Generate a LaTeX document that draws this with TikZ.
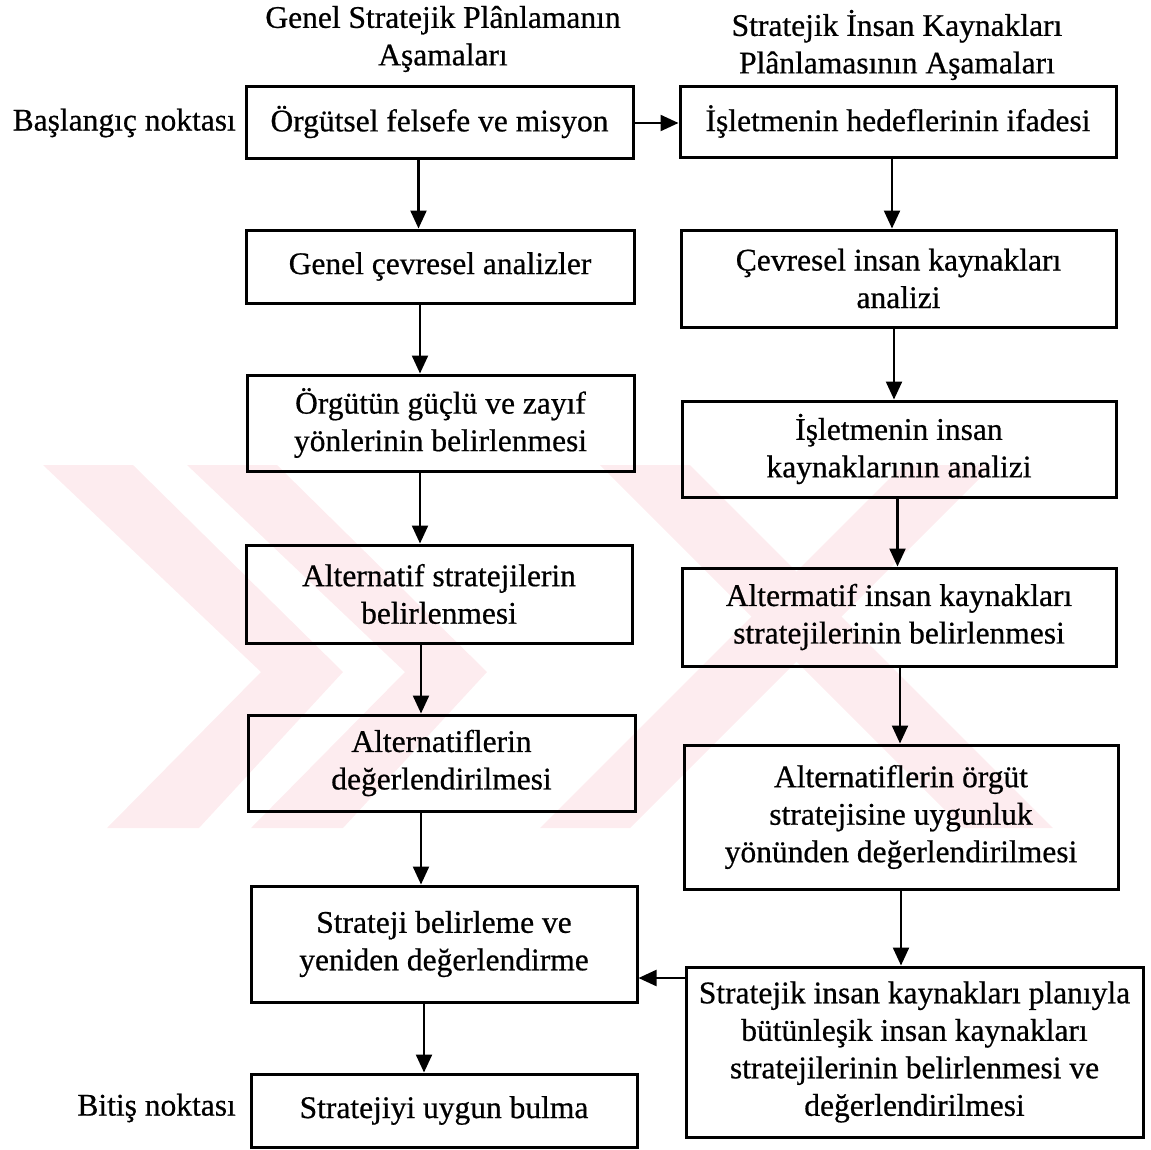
\documentclass[tikz,border=0pt]{standalone}
\usepackage{fontspec}
\setmainfont{Liberation Serif}[FakeBold=0.6]
\usetikzlibrary{arrows.meta}
\definecolor{wm}{RGB}{253,236,239}
\begin{document}
\begin{tikzpicture}[x=1pt,y=-1pt,
  txt/.style={font=\fontsize{31.5}{37.5}\selectfont},
  box/.style={txt, draw, line width=3pt, align=center, inner sep=0pt},
  lbl/.style={txt, align=center, inner sep=0pt},
  arr/.style={line width=2.3pt, -{Triangle[length=18pt,width=16pt]}}]
\useasboundingbox (0,0) rectangle (1151,1149);

% faint background emblem
\begin{scope}
\clip (0,465) rectangle (1151,828);
\fill[wm] (43,465) -- (133,465) -- (343,672) -- (199,828) -- (107,828) -- (261,672) -- cycle;
\fill[wm] (187,465) -- (277,465) -- (487,672) -- (343,828) -- (251,828) -- (405,672) -- cycle;
\fill[wm] (600,465) -- (690,465) -- (1053,828) -- (963,828) -- cycle;
\fill[wm] (540,828) -- (630,828) -- (993,465) -- (903,465) -- cycle;
\end{scope}

% column headings
\node[lbl] (tl) at (443,39) {Genel Stratejik Plânlamanın\\Aşamaları};
\node[lbl] (tr) at (897,45) {Stratejik İnsan Kaynakları\\Plânlamasının Aşamaları};

% general strategic planning steps
\node[box, minimum width=387pt, minimum height=72pt] (L1) at (439.5,122) {Örgütsel felsefe ve misyon};
\node[box, minimum width=388pt, minimum height=73pt] (L2) at (440,266.5) {Genel çevresel analizler};
\node[box, minimum width=387pt, minimum height=96pt] (L3) at (440.5,423) {Örgütün güçlü ve zayıf\\yönlerinin belirlenmesi};
\node[box, minimum width=386pt, minimum height=98pt] (L4) at (439,594) {Alternatif stratejilerin\\belirlenmesi};
\node[box, minimum width=387pt, minimum height=96pt] (L5) at (441.5,763) {Alternatiflerin\\değerlendirilmesi};
\node[box, minimum width=386pt, minimum height=116pt] (L6) at (444,944) {Strateji belirleme ve\\yeniden değerlendirme};
\node[box, minimum width=386pt, minimum height=73pt] (L7) at (444,1110.5) {Stratejiyi uygun bulma};

% strategic human resources planning steps
\node[box, minimum width=436pt, minimum height=71pt] (R1) at (898,121.5) {İşletmenin hedeflerinin ifadesi};
\node[box, minimum width=435pt, minimum height=97pt] (R2) at (898.5,278.5) {Çevresel insan kaynakları\\analizi};
\node[box, minimum width=434pt, minimum height=96pt] (R3) at (899,449) {İşletmenin insan\\kaynaklarının analizi};
\node[box, minimum width=434pt, minimum height=98pt] (R4) at (899,617) {Altermatif insan kaynakları\\stratejilerinin belirlenmesi};
\node[box, minimum width=434pt, minimum height=144pt] (R5) at (901,817) {Alternatiflerin örgüt\\stratejisine uygunluk\\yönünden değerlendirilmesi};
\node[box, minimum width=457pt, minimum height=170pt] (R6) at (914.5,1052) {Stratejik insan kaynakları planıyla\\bütünleşik insan kaynakları\\stratejilerinin belirlenmesi ve\\değerlendirilmesi};

% start and end labels
\node[lbl, anchor=east] (start) at (236,123) {Başlangıç noktası};
\node[lbl, anchor=east] (finish) at (236,1108) {Bitiş noktası};

% flow down the left column
\draw[arr] ([xshift=-21pt]L1.south) -- ([xshift=-21pt]L1.south |- L2.north);
\draw[arr] ([xshift=-20pt]L2.south) -- ([xshift=-20pt]L2.south |- L3.north);
\draw[arr] ([xshift=-20.5pt]L3.south) -- ([xshift=-20.5pt]L3.south |- L4.north);
\draw[arr] ([xshift=-18pt]L4.south) -- ([xshift=-18pt]L4.south |- L5.north);
\draw[arr] ([xshift=-20.5pt]L5.south) -- ([xshift=-20.5pt]L5.south |- L6.north);
\draw[arr] ([xshift=-20pt]L6.south) -- ([xshift=-20pt]L6.south |- L7.north);

% flow down the right column
\draw[arr] ([xshift=-6pt]R1.south) -- ([xshift=-6pt]R1.south |- R2.north);
\draw[arr] ([xshift=-4.5pt]R2.south) -- ([xshift=-4.5pt]R2.south |- R3.north);
\draw[arr] ([xshift=-1.5pt]R3.south) -- ([xshift=-1.5pt]R3.south |- R4.north);
\draw[arr] ([xshift=1pt]R4.south) -- ([xshift=1pt]R4.south |- R5.north);
\draw[arr] ([xshift=0pt]R5.south) -- ([xshift=0pt]R5.south |- R6.north);

% links between the columns
\coordinate (h1) at (0,123);
\coordinate (h2) at (0,978);
\draw[arr] (L1.east |- h1) -- (R1.west |- h1);
\draw[arr] (R6.west |- h2) -- (L6.east |- h2);
\end{tikzpicture}
\end{document}
